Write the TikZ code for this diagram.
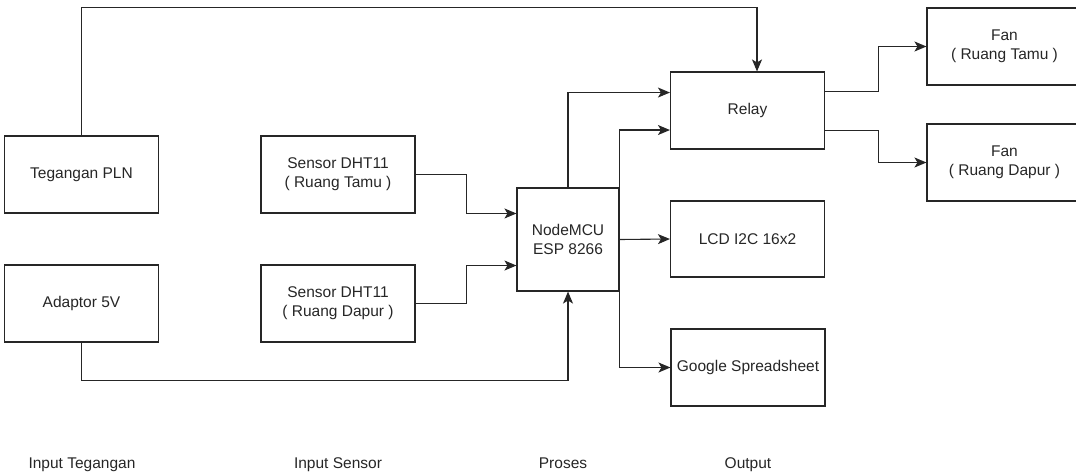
\documentclass[tikz,border=0pt]{standalone}
\usepackage{fontspec}
\setmainfont{Liberation Sans}
\usetikzlibrary{arrows.meta,calc}
\begin{document}
\begin{tikzpicture}[x=1pt,y=-1pt,
  box/.style={draw=black!85, line width=1.1pt, minimum width=154pt, minimum height=77pt,
    align=center, inner sep=0pt, text=black!85, font=\fontsize{15.5}{19}\selectfont},
  conn/.style={draw=black!85, line width=1.1pt, -{Stealth[length=12pt,width=10pt,inset=3pt]}},
  lbl/.style={text=black!85, font=\fontsize{15.5}{19}\selectfont, inner sep=0pt, anchor=base}
]
\useasboundingbox (0,0) rectangle (1076,472);
% boxes
\node[box] (pln) at (81.5,174.5) {Tegangan PLN};
\node[box] (adp) at (81.5,303.5) {Adaptor 5V};
\node[box] (st) at (338,174.5) {Sensor DHT11\\( Ruang Tamu )};
\node[box] (sd) at (338,303.5) {Sensor DHT11\\( Ruang Dapur )};
\node[box, minimum width=102pt, minimum height=103pt] (mcu) at (568,239.5) {NodeMCU\\ESP 8266};
\node[box] (relay) at (747.5,110.5) {Relay};
\node[box, minimum height=76pt] (lcd) at (747.5,239) {LCD I2C 16x2};
\node[box] (google) at (748,367.5) {Google Spreadsheet};
\node[box, minimum width=155pt] (fan1) at (1004.5,46.5) {Fan\\( Ruang Tamu )};
\node[box, minimum width=155pt] (fan2) at (1004.5,162.5) {Fan\\( Ruang Dapur )};
% labels
\node[lbl] (l1) at (82,468) {Input Tegangan};
\node[lbl] (l2) at (338,468) {Input Sensor};
\node[lbl] (l3) at (563,468) {Proses};
\node[lbl] (l4) at (748,468) {Output};
% connectors
\coordinate (top) at (757,7.5);
\draw[conn] (pln.north) |- (top) -- (top |- relay.north);
\draw[conn] (st.east) -- ++(51,0) |- ($(mcu.north west)!0.25!(mcu.south west)$);
\draw[conn] (sd.east) -- ++(51,0) |- ($(mcu.north west)!0.75!(mcu.south west)$);
\draw[conn] (adp.south) -- ++(0,38) -| (mcu.south);
\draw[conn] (mcu.north) |- ($(relay.north west)!0.27!(relay.south west)$);
\draw[conn] (mcu.east) |- ($(relay.north west)!0.75!(relay.south west)$);
\draw[conn] (mcu.east) -- (lcd.west);
\draw[conn] (mcu.east) |- (google.west);
\draw[conn] ($(relay.north east)!0.26!(relay.south east)$) -- ++(53,0) |- (fan1.west);
\draw[conn] ($(relay.north east)!0.76!(relay.south east)$) -- ++(53,0) |- (fan2.west);
\end{tikzpicture}
\end{document}
